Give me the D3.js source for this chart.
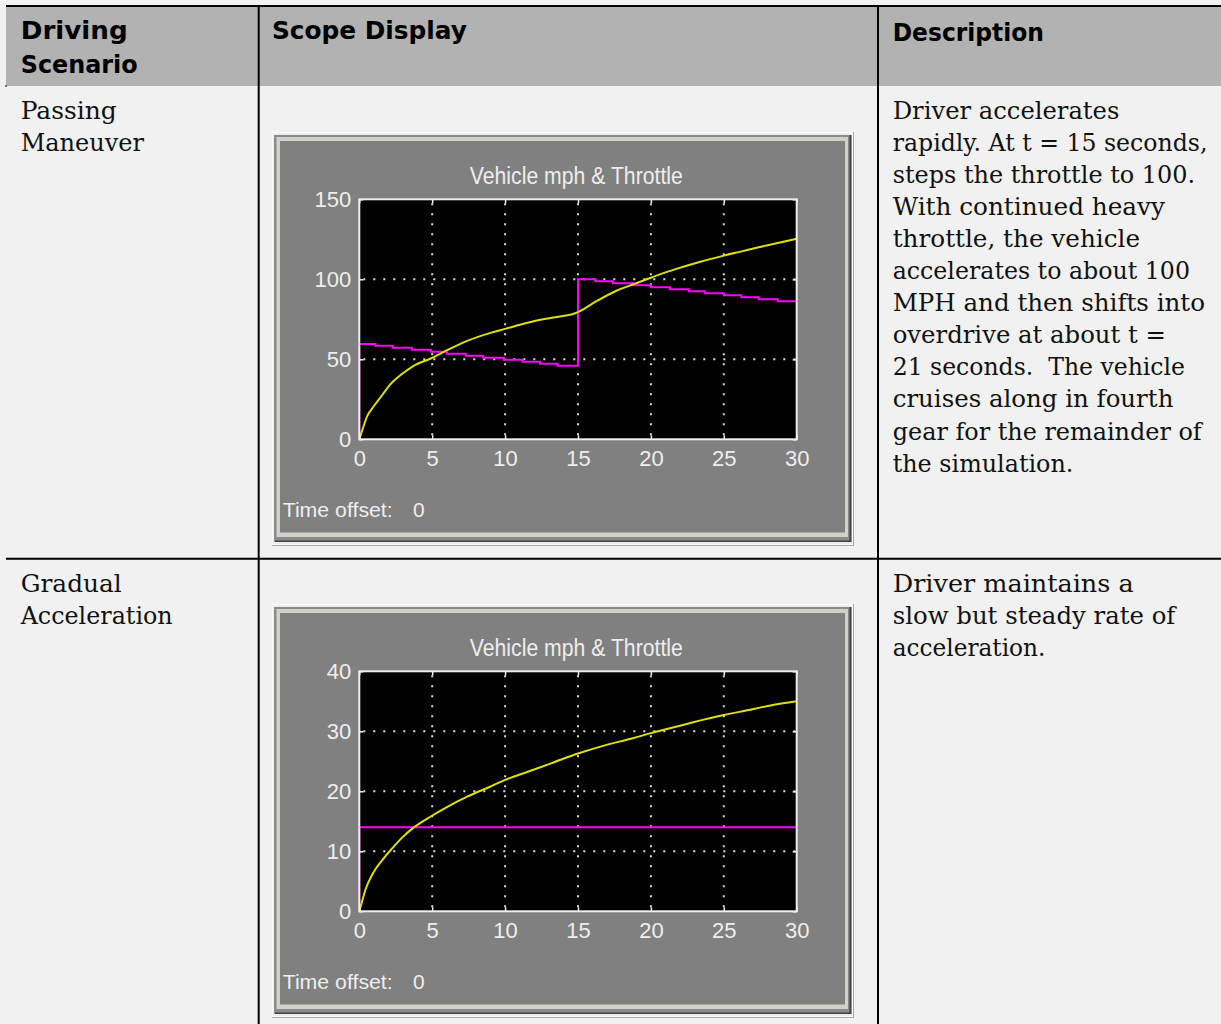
<!DOCTYPE html>
<html><head><meta charset="utf-8">
<script src="https://cdn.jsdelivr.net/npm/d3@7"></script>
<style>
html,body{margin:0;padding:0;background:#f1f1f1;}
svg{display:block;}
</style></head><body>
<svg id="c" width="1221" height="1024"></svg>
<script>
// ---------------- data ----------------
const headerCells = ["Driving Scenario", "Scope Display", "Description"];
const scenarioNames = [["Passing", "Maneuver"], ["Gradual", "Acceleration"]];
const descriptions = [
  ["Driver accelerates", "rapidly. At t = 15 seconds,", "steps the throttle to 100.",
   "With continued heavy", "throttle, the vehicle", "accelerates to about 100",
   "MPH and then shifts into", "overdrive at about t =", "21 seconds.  The vehicle",
   "cruises along in fourth", "gear for the remainder of", "the simulation."],
  ["Driver maintains a", "slow but steady rate of", "acceleration."]
];
const scopeTitle = "Vehicle mph & Throttle";
const timeOffsetLabel = "Time offset:";
const timeOffsetValue = "0";
const timeTicks = [0, 5, 10, 15, 20, 25, 30];
const passYTicks = [0, 50, 100, 150];
const gradYTicks = [0, 10, 20, 30, 40];

// Passing maneuver: vehicle speed (mph) and throttle (%)
const passSpeedT = [0, 0.25, 0.55, 1.0, 1.6, 2.1, 2.9, 3.7, 4.9, 6.1, 7.4, 9.0, 10.0, 11.6, 13.2, 14.8, 15.0, 16.3, 17.6, 19.0, 20.0, 21.0, 22.1, 23.4, 25.0, 26.3, 27.4, 28.7, 30];
const passSpeed  = [0, 7, 14.6, 20.8, 28, 34, 40.6, 45.8, 50.5, 56, 61.5, 66.5, 69, 73, 76, 78.8, 79.5, 86.5, 92.7, 97.5, 101, 104.3, 107.5, 111, 114.8, 117.6, 120, 122.7, 125.3];
const passThrottleT = [0, 0, 1.1, 2.3, 3.6, 4.9, 6.0, 7.3, 8.5, 9.9, 11.2, 12.4, 13.6, 15, 16.2, 17.4, 18.8, 20.0, 21.3, 22.6, 23.7, 25.0, 26.2, 27.4, 28.7, 30];
const passThrottle  = [0, 59.6, 58.4, 57.2, 55.9, 54.7, 53.4, 52.2, 50.9, 49.7, 48.4, 47.2, 45.9, 100, 98.8, 97.6, 96.3, 95.1, 93.8, 92.6, 91.3, 90.1, 88.8, 87.6, 86.3, 86.3];

// Gradual acceleration
const gradSpeedT = [0, 0.16, 0.42, 0.95, 1.6, 2.26, 2.9, 3.7, 4.9, 6.1, 7.4, 9.0, 10, 11.6, 13.2, 15, 16.9, 18.7, 20, 21.3, 22.9, 25, 26.6, 28.2, 30];
const gradSpeed  = [0, 1.4, 3.6, 6.4, 8.6, 10.5, 12.2, 13.9, 15.8, 17.5, 19.1, 20.8, 21.9, 23.3, 24.7, 26.3, 27.7, 28.8, 29.7, 30.5, 31.5, 32.7, 33.5, 34.3, 35.0];
const gradThrottleT = [0, 0, 30];
const gradThrottle  = [0, 14, 14];

// ---------------- layout ----------------
const W = 1221, H = 1024;
const svg = d3.select("#c");
const headerFont = "'DejaVu Sans', sans-serif";
const bodyFont = "'DejaVu Serif', 'Liberation Serif', serif";
const scopeFont = "'Liberation Sans', Arial, sans-serif";

// table background & rules
svg.append("rect").attr("x", 6).attr("y", 6).attr("width", W - 6).attr("height", 80).attr("fill", "#b2b2b2");
svg.append("line").attr("x1", 6).attr("x2", W).attr("y1", 6).attr("y2", 6).attr("stroke", "#000").attr("stroke-width", 2);
svg.append("line").attr("x1", 6).attr("x2", W).attr("y1", 558.7).attr("y2", 558.7).attr("stroke", "#000").attr("stroke-width", 2);
svg.append("line").attr("x1", 5).attr("x2", 7).attr("y1", 86).attr("y2", 86).attr("stroke", "#000").attr("stroke-width", 1);
[258.7, 878].forEach(x => svg.append("line").attr("x1", x).attr("x2", x).attr("y1", 5).attr("y2", H).attr("stroke", "#000").attr("stroke-width", 2));

// header text
const headerLayout = [
  {t: headerCells[0].split(" ")[0], x: 20.7, y: 38.5, w: 107},
  {t: headerCells[0].split(" ")[1], x: 20.7, y: 72.5, w: 117},
  {t: headerCells[1], x: 272, y: 38.5, w: 195},
  {t: headerCells[2], x: 892.7, y: 40.5, w: 151.3}
];
svg.append("g").selectAll("text").data(headerLayout).join("text")
  .attr("x", d => d.x).attr("y", d => d.y).attr("textLength", d => d.w).attr("lengthAdjust", "spacingAndGlyphs")
  .attr("font-family", headerFont).attr("font-weight", "bold").attr("font-size", 24).attr("fill", "#000")
  .text(d => d.t);

// body text
const rowBase = [118.5, 591.5];
const lineH = 32.1;
const nameWidths = [[96, 123.3], [101, 152]];
const descWidths = [[226.7, 314.7, 302.3, 272.3, 247.3, 297.3, 312.3, 273.3, 292.3, 280.7, 309, 180.7], [241, 282.7, 152.7]];
scenarioNames.forEach((lines, r) => {
  lines.forEach((t, i) => {
    svg.append("text").attr("x", 20.7).attr("y", rowBase[r] + i * lineH)
      .attr("textLength", nameWidths[r][i]).attr("lengthAdjust", "spacingAndGlyphs")
      .attr("font-family", bodyFont).attr("font-size", 24).attr("fill", "#111").text(t);
  });
});
descriptions.forEach((lines, r) => {
  lines.forEach((t, i) => {
    svg.append("text").attr("x", 892.7).attr("y", rowBase[r] + i * lineH)
      .attr("textLength", descWidths[r][i]).attr("lengthAdjust", "spacingAndGlyphs")
      .attr("xml:space", "preserve")
      .attr("font-family", bodyFont).attr("font-size", 24).attr("fill", "#111").text(t);
  });
});

// ---------------- scope ----------------
function drawScope(top, yTicks, speedT, speed, thrT, thr, id) {
  const g = svg.append("g").attr("transform", `translate(0,${top})`);
  // bevelled frame
  const layers = [
    [272, 0, 582, 414, "#a8a8a8"],
    [272, 0, 581, 413, "#fcfcfc"],
    [273, 1, 579, 411, "#ededed"],
    [274.5, 3, 577, 407, "#404040"],
    [274.5, 3, 575, 405.5, "#8a8a8a"],
    [276.5, 5, 571.5, 400, "#d4d0c8"],
    [280, 9, 565, 391.5, "#808080"]
  ];
  layers.forEach(l => g.append("rect").attr("x", l[0]).attr("y", l[1]).attr("width", l[2]).attr("height", l[3]).attr("fill", l[4]));

  const x = d3.scaleLinear().domain([timeTicks[0], timeTicks[timeTicks.length - 1]]).range([359.3, 796.7]);
  const y = d3.scaleLinear().domain([yTicks[0], yTicks[yTicks.length - 1]]).range([307.3, 67.3]);

  // plot background
  g.append("rect").attr("x", x.range()[0]).attr("y", y.range()[1])
    .attr("width", x.range()[1] - x.range()[0]).attr("height", y.range()[0] - y.range()[1]).attr("fill", "#000");

  // dotted grid
  const grid = g.append("g").attr("stroke", "#dcdcdc").attr("stroke-width", 2).attr("stroke-dasharray", "2,8");
  timeTicks.slice(1, -1).forEach(t => grid.append("line").attr("x1", x(t)).attr("x2", x(t)).attr("y1", y.range()[1] + 4).attr("y2", y.range()[0]));
  yTicks.slice(1, -1).forEach(v => grid.append("line").attr("y1", y(v)).attr("y2", y(v)).attr("x1", x.range()[0] + 4).attr("x2", x.range()[1]));

  // series
  g.append("clipPath").attr("id", id).append("rect").attr("x", x.range()[0]).attr("y", y.range()[1] - 1)
    .attr("width", x.range()[1] - x.range()[0]).attr("height", y.range()[0] - y.range()[1] + 2);
  const speedLine = d3.line().x((d, i) => x(speedT[i])).y(d => y(d)).curve(d3.curveMonotoneX);
  const thrLine = d3.line().x((d, i) => x(thrT[i])).y(d => y(d)).curve(d3.curveStepAfter);
  const series = g.append("g").attr("clip-path", `url(#${id})`).attr("fill", "none");
  series.append("path").attr("d", thrLine(thr)).attr("stroke", "#ff00ff").attr("stroke-width", 2);
  series.append("path").attr("d", speedLine(speed)).attr("stroke", "#e0e000").attr("stroke-width", 2);

  // axes (ticks inward on all four sides)
  const axisStyle = a => {
    a.select(".domain").remove();
    a.selectAll("line").attr("stroke", "#f0f0f0").attr("stroke-width", 1.5);
    a.selectAll("text").attr("fill", "#eeeeee").attr("font-family", scopeFont).attr("font-size", 22);
  };
  g.append("g").attr("transform", `translate(0,${y.range()[0]})`)
    .call(d3.axisBottom(x).tickValues(timeTicks).tickSizeInner(-4).tickSizeOuter(0).tickPadding(11)).call(axisStyle);
  g.append("g").attr("transform", `translate(${x.range()[0]},0)`)
    .call(d3.axisLeft(y).tickValues(yTicks).tickSizeInner(-4).tickSizeOuter(0).tickPadding(8)).call(axisStyle);
  g.append("g").attr("transform", `translate(0,${y.range()[1]})`)
    .call(d3.axisTop(x).tickValues(timeTicks).tickSizeInner(-4).tickSizeOuter(0).tickFormat("")).call(axisStyle);
  g.append("g").attr("transform", `translate(${x.range()[1]},0)`)
    .call(d3.axisRight(y).tickValues(yTicks).tickSizeInner(-4).tickSizeOuter(0).tickFormat("")).call(axisStyle);

  // plot border
  g.append("rect").attr("x", x.range()[0]).attr("y", y.range()[1])
    .attr("width", x.range()[1] - x.range()[0]).attr("height", y.range()[0] - y.range()[1])
    .attr("fill", "none").attr("stroke", "#eeeeee").attr("stroke-width", 2);

  // title & status
  g.append("text").attr("x", 576.3).attr("y", 52).attr("text-anchor", "middle")
    .attr("textLength", 213).attr("lengthAdjust", "spacingAndGlyphs")
    .attr("font-family", scopeFont).attr("font-size", 23).attr("fill", "#eeeeee").text(scopeTitle);
  g.append("text").attr("x", 282.7).attr("y", 384.7).attr("textLength", 110).attr("lengthAdjust", "spacingAndGlyphs")
    .attr("font-family", scopeFont).attr("font-size", 21).attr("fill", "#eeeeee").text(timeOffsetLabel);
  g.append("text").attr("x", 413).attr("y", 384.7)
    .attr("font-family", scopeFont).attr("font-size", 21).attr("fill", "#eeeeee").text(timeOffsetValue);
}

drawScope(132, passYTicks, passSpeedT, passSpeed, passThrottleT, passThrottle, "clipPass");
drawScope(604, gradYTicks, gradSpeedT, gradSpeed, gradThrottleT, gradThrottle, "clipGrad");
</script>
</body></html>
